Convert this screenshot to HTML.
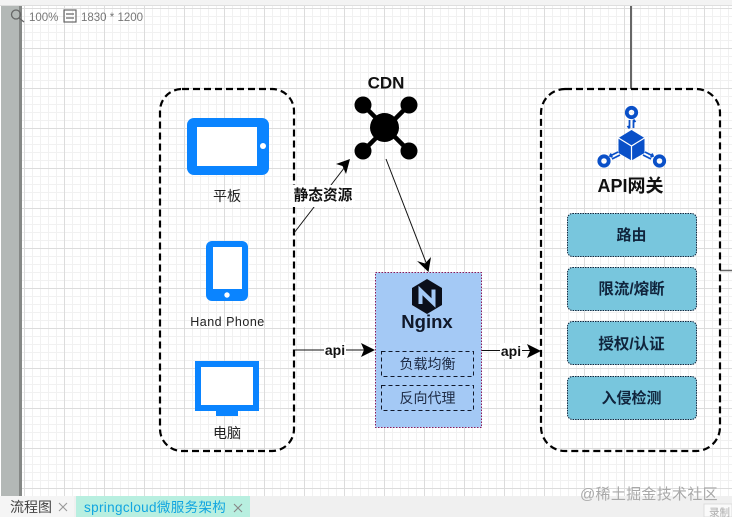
<!DOCTYPE html>
<html><head><meta charset="utf-8">
<style>
html,body{margin:0;padding:0;background:#fff}
svg{display:block;filter:blur(0.3px)}
text{font-family:"Liberation Sans","Noto Sans CJK SC",sans-serif}
</style></head>
<body>
<svg width="732" height="517" viewBox="0 0 732 517" xmlns="http://www.w3.org/2000/svg">
<defs>
<pattern id="minor" x="24" y="8" width="8" height="8" patternUnits="userSpaceOnUse"><path d="M0.5 0V8M0 0.5H8" stroke="#f1f1f1" stroke-width="1" fill="none"/></pattern>
<pattern id="major" x="24" y="8" width="40" height="40" patternUnits="userSpaceOnUse"><path d="M0.5 0V40M0 0.5H40" stroke="#dcdcdc" stroke-width="1" fill="none"/></pattern>
</defs>
<rect width="732" height="517" fill="#fff"/>
<rect x="0" y="0" width="732" height="5" fill="#f3f3f3"/>
<rect x="22" y="6" width="710" height="490" fill="url(#minor)"/>
<rect x="22" y="6" width="710" height="490" fill="url(#major)"/>
<rect x="0" y="5" width="732" height="1" fill="#dedede"/>
<rect x="1" y="6" width="18" height="490" fill="#b3b8b6"/>
<rect x="19" y="6" width="3" height="490" fill="#858886"/>
<!-- top info -->
<circle cx="16" cy="14.5" r="4.5" fill="none" stroke="#666" stroke-width="1.3"/>
<path d="M19 18L24 22" stroke="#666" stroke-width="1.3"/>
<text x="29" y="21" font-size="11.5" fill="#777">100%</text>
<rect x="64" y="10" width="12" height="12" fill="none" stroke="#666" stroke-width="1.2"/>
<path d="M66 14H74M66 18H74" stroke="#666" stroke-width="1.2"/>
<text x="81" y="21" font-size="11.5" fill="#777">1830 * 1200</text>

<!-- top line and right line -->
<path d="M631 6V89" stroke="#666" stroke-width="2" fill="none"/>
<path d="M720 270.5H732" stroke="#666" stroke-width="1.5" fill="none"/>

<!-- containers -->
<rect x="160" y="89" width="134" height="362" rx="22" ry="22" fill="none" stroke="#000" stroke-width="2.2" stroke-dasharray="7 4"/>
<rect x="541" y="89" width="179" height="362" rx="24" ry="24" fill="none" stroke="#000" stroke-width="2.2" stroke-dasharray="7 4"/>

<!-- tablet -->
<rect x="187" y="118" width="82" height="57" rx="7" fill="#0a84ff"/>
<rect x="197" y="127" width="60" height="39" fill="#fff"/>
<circle cx="263" cy="146" r="3" fill="#fff"/>
<text x="227" y="201" font-size="14" fill="#222" text-anchor="middle">平板</text>

<!-- phone -->
<rect x="206" y="241" width="42" height="60" rx="6" fill="#0a84ff"/>
<rect x="213" y="247" width="29" height="42" fill="#fff"/>
<circle cx="227" cy="295" r="2.7" fill="#fff"/>
<text x="227.500" y="326" font-size="12.5" fill="#222" text-anchor="middle" letter-spacing="0.5">Hand Phone</text>

<!-- monitor -->
<rect x="195" y="361" width="64" height="50" fill="#0a84ff"/>
<rect x="201" y="367" width="52" height="38" fill="#fff"/>
<rect x="216" y="410" width="22" height="6" fill="#0a84ff"/>
<text x="227" y="438" font-size="14" fill="#222" text-anchor="middle">电脑</text>

<!-- CDN -->
<text x="386" y="88.500" font-size="17" font-weight="bold" fill="#111" text-anchor="middle">CDN</text>
<g fill="#000" stroke="#000">
<path d="M363 105L409 151M409 105L363 151" stroke-width="4.500" fill="none"/>
<circle cx="384.500" cy="127.500" r="14.500" stroke="none"/>
<circle cx="363" cy="105" r="8.500" stroke="none"/>
<circle cx="409" cy="105" r="8.500" stroke="none"/>
<circle cx="363" cy="151" r="8.500" stroke="none"/>
<circle cx="409" cy="151" r="8.500" stroke="none"/>
</g>

<!-- connectors -->
<path d="M294 233L348 163" stroke="#111" stroke-width="1" fill="none"/>
<path d="M350 159L346 174L342.500 166L336 164Z" fill="#000"/>
<rect x="291" y="185" width="64" height="22" fill="#fff"/>
<text x="323" y="200" font-size="14.700" font-weight="bold" fill="#111" text-anchor="middle">静态资源</text>

<path d="M386 159L427 265" stroke="#111" stroke-width="1" fill="none"/>
<path d="M428.500 272L417 261L425 263.500L431 257Z" fill="#000"/>

<path d="M295 350H368" stroke="#111" stroke-width="1" fill="none"/>
<path d="M375 350L361 357L364 350L361 343Z" fill="#000"/>
<rect x="324" y="342" width="22" height="16" fill="#fff"/>
<text x="335" y="355" font-size="14" font-weight="bold" fill="#111" text-anchor="middle">api</text>

<path d="M482 350.500H534" stroke="#111" stroke-width="1" fill="none"/>
<path d="M541 351L527 358L530 351L527 344Z" fill="#000"/>
<rect x="500" y="343" width="22" height="16" fill="#fff"/>
<text x="511" y="356" font-size="14" font-weight="bold" fill="#111" text-anchor="middle">api</text>

<!-- Nginx -->
<rect x="375.500" y="272.500" width="106" height="155" fill="#a4c9f5" stroke="#8a1a5a" stroke-width="1" stroke-dasharray="1.500 1.500"/>
<path d="M427 279L442 288V305L427 314L412 305V288Z" fill="#0b0f1a"/>
<path d="M420.500 304V290.500L433.500 303V289.500" fill="none" stroke="#a4c9f5" stroke-width="4"/>
<text x="427" y="328" font-size="18.500" font-weight="bold" fill="#10182a" text-anchor="middle">Nginx</text>
<rect x="381.500" y="351.500" width="92" height="25" fill="none" stroke="#10182a" stroke-width="1" stroke-dasharray="4 3"/>
<text x="427.500" y="369" font-size="14" fill="#1d2a44" text-anchor="middle">负载均衡</text>
<rect x="381.500" y="385.500" width="92" height="25" fill="none" stroke="#10182a" stroke-width="1" stroke-dasharray="4 3"/>
<text x="427.500" y="403" font-size="14" fill="#1d2a44" text-anchor="middle">反向代理</text>

<!-- API gateway icon -->
<g>
<path d="M631.500 130L644.500 138V153L631.500 160.500L618.500 153V138Z" fill="#0a50c8"/>
<path d="M618.500 138L631.500 146L644.500 138M631.500 146V160.500" stroke="#fff" stroke-width="1.200" fill="none"/>
<circle cx="631.500" cy="112.500" r="4.700" fill="none" stroke="#0a50c8" stroke-width="3.800"/>
<circle cx="604" cy="161" r="4.700" fill="none" stroke="#0a50c8" stroke-width="3.800"/>
<circle cx="659.500" cy="161" r="4.700" fill="none" stroke="#0a50c8" stroke-width="3.800"/>
<path d="M629.500 120V128M633.500 120V128M627.500 126L629.500 128.500M635.500 122L633.500 119.500" stroke="#0a50c8" stroke-width="1.800" fill="none"/>
<path d="M610 156L618 152M612 159L620 155M611 153.500L610 156L612.500 157" stroke="#0a50c8" stroke-width="1.800" fill="none"/>
<path d="M653 156L645 152M651 159L643 155M652 153.500L653 156L650.500 157" stroke="#0a50c8" stroke-width="1.800" fill="none"/>
</g>
<text x="630.500" y="192" font-size="18" font-weight="bold" fill="#111" text-anchor="middle">API网关</text>

<!-- gateway items -->
<g fill="#78c6dd" stroke="#0f2740" stroke-width="1" stroke-dasharray="1.500 1">
<rect x="567.500" y="213.500" width="129" height="43" rx="5"/>
<rect x="567.500" y="267.500" width="129" height="43" rx="5"/>
<rect x="567.500" y="321.500" width="129" height="43" rx="5"/>
<rect x="567.500" y="376.500" width="129" height="43" rx="5"/>
</g>
<g font-size="15" font-weight="bold" fill="#10243c" text-anchor="middle">
<text x="631.500" y="240">路由</text>
<text x="631.500" y="294" font-size="15.500">限流/熔断</text>
<text x="631.500" y="349" font-size="15.500">授权/认证</text>
<text x="631.500" y="403">入侵检测</text>
</g>

<!-- bottom tabs -->
<rect x="0" y="496" width="732" height="21" fill="#f0f0f0"/>
<rect x="0" y="496" width="74" height="21" fill="#f5f5f5"/>
<text x="10" y="512" font-size="14" fill="#444">流程图</text>
<path d="M59 503L67 511M67 503L59 511" stroke="#999" stroke-width="1.100"/>
<rect x="76" y="496" width="174" height="21" fill="#b8efe0"/>
<text x="84" y="512" font-size="13.500" fill="#10a5e0" letter-spacing="0.35">springcloud微服务架构</text>
<path d="M234 504L242 512M242 504L234 512" stroke="#888" stroke-width="1.100"/>
<rect x="704" y="504" width="28" height="13" fill="#fafafa" stroke="#ddd" stroke-width="1"/>
<text x="709" y="516" font-size="10.500" fill="#aaa">录制</text>
<text x="580" y="499" font-size="15" fill="#a9a9a9" letter-spacing="0.300">@稀土掘金技术社区</text>
</svg>
</body></html>
